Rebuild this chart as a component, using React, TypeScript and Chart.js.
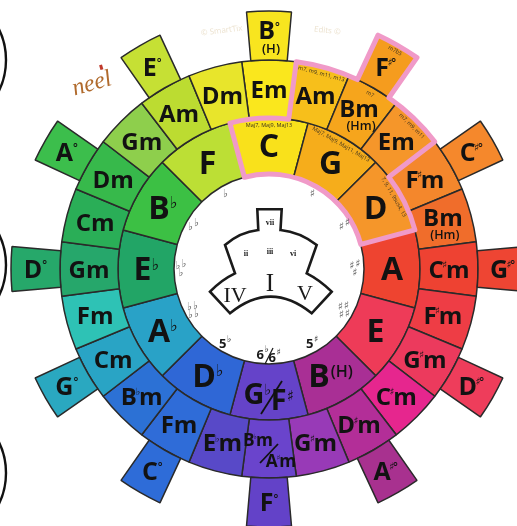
import React, { useEffect, useRef } from "react";
import { Chart, ArcElement, DoughnutController } from "chart.js";

Chart.register(ArcElement, DoughnutController);

// ---- data ----
const majorKeys = ["C", "G", "D", "A", "E", "B(H)", "G♭/F♯", "D♭", "A♭", "E♭", "B♭", "F"];
const majorArc = [30, 30, 30, 30, 30, 30, 30, 30, 30, 30, 30, 30];
const majorColors = ["#f9e11b", "#f6ad1b", "#f5962a", "#ee4430", "#ee3b58", "#a92f95", "#6543c9", "#2f67d6", "#29a2c7", "#22a566", "#3cc044", "#bcdf35"];

const minorChords = ["Em", "Am", "Bm(Hm)", "Em", "F♯m", "Bm(Hm)", "C♯m", "F♯m", "G♯m", "C♯m", "D♯m", "G♯m", "B♭m/A♯m", "E♭m", "Fm", "B♭m", "Cm", "Fm", "Gm", "Cm", "Dm", "Gm", "Am", "Dm"];
const minorArc = [15, 15, 15, 15, 15, 15, 15, 15, 15, 15, 15, 15, 15, 15, 15, 15, 15, 15, 15, 15, 15, 15, 15, 15];
const minorColors = ["#fae71d", "#f7bf1b", "#f6a51c", "#f5962a", "#f4872c", "#f06d2b", "#ee4232", "#ee3d45", "#ec3a5d", "#e6268e", "#b32e98", "#983ab7", "#6a44cc", "#5849c8", "#2f6cd8", "#2c71d5", "#29a4c5", "#2ec2b5", "#26a76b", "#2aae57", "#37b94b", "#8ecf4c", "#bcdc31", "#e8e52b"];

const dimChords = ["B°(H)", "F♯°", "C♯°", "G♯°", "D♯°", "A♯°", "F°", "C°", "G°", "D°", "A°", "E°"];
const dimArc = [10, 10, 10, 10, 10, 10, 10, 10, 10, 10, 10, 10];
const dimGap = [20, 20, 20, 20, 20, 20, 20, 20, 20, 20, 20, 20];
const dimColors = ["#f8e51f", "#f59c1e", "#f5882c", "#ee4533", "#ee3d5b", "#a8318f", "#6342c8", "#2e6cd8", "#2aa8c0", "#26a86a", "#3cbe4c", "#c6e034"];

const keySignatures = ["", "♯", "♯♯", "♯♯♯", "♯♯♯♯", "5♯", "6♭/6♯", "5♭", "♭♭♭♭", "♭♭♭", "♭♭", "♭"];

const majorExtensions = ["Maj7, Maj9, Maj13", "Maj7, Maj9, Maj11, Maj13", "7, 9, 11, 9sus4, 13"];
const minorExtensions = ["", "m7, m9, m11, m13", "m7", "m7, m9, m11"];

// ---- drawing helpers ----
const FONT = '"Open Sans", "DejaVu Sans", sans-serif';
const SYM = '"DejaVu Sans", sans-serif';
const SERIF = '"Liberation Serif", "DejaVu Serif", serif';

function props(el: any) {
  return el.getProps(["x", "y", "startAngle", "endAngle", "innerRadius", "outerRadius"], true);
}

function midPoint(el: any, frac: number) {
  const p = props(el);
  const a = (p.startAngle + p.endAngle) / 2;
  const r = p.innerRadius + (p.outerRadius - p.innerRadius) * frac;
  return { x: p.x + Math.cos(a) * r, y: p.y + Math.sin(a) * r, a, r, p };
}

function drawChordText(ctx: CanvasRenderingContext2D, label: string, x: number, y: number, size: number, weight: number, kind: string) {
  const m = label.match(/^([A-G])([♯♭]?)(m?)(°?)(?:\((.+)\))?$/);
  ctx.fillStyle = "#121212";
  if (!m) {
    ctx.font = `${weight} ${size}px ${FONT}`;
    ctx.textAlign = "center";
    ctx.textBaseline = "middle";
    ctx.fillText(label, x, y);
    return;
  }
  const root = m[1], acc = m[2], minor = m[3], deg = m[4], paren = m[5];
  const cap = size * 0.714;
  const mainF = `${weight} ${size}px ${FONT}`;
  const accSize = kind === "major" ? size * 0.52 : size * 0.42;
  const accF = `${accSize}px ${SYM}`;
  const degSize = size * 0.45;
  const degF = `600 ${degSize}px ${FONT}`;
  ctx.font = mainF;
  const wR = ctx.measureText(root).width;
  const wM = minor ? ctx.measureText("m").width : 0;
  ctx.font = accF;
  const wAraw = acc ? ctx.measureText(acc).width : 0;
  const wA = acc ? (kind === "major" ? wAraw * 0.9 : wAraw * 0.45) : 0;
  ctx.font = degF;
  const wD = deg ? ctx.measureText("°").width : 0;
  const parenSup = !!paren && kind === "major";
  const parenSize = parenSup ? size * 0.5 : size * 0.52;
  const parenF = `600 ${parenSize}px ${FONT}`;
  let parenW = 0;
  if (parenSup) {
    ctx.font = parenF;
    parenW = ctx.measureText("(" + paren + ")").width + 1;
  }
  const total = wR + wA + wM + wD + parenW;
  const yy = paren && !parenSup ? y - size * 0.2 : y;
  const base = yy + cap / 2;
  let cx0 = x - total / 2;
  ctx.textAlign = "left";
  ctx.textBaseline = "alphabetic";
  ctx.font = mainF;
  ctx.fillText(root, cx0, base);
  cx0 += wR;
  if (acc) {
    ctx.font = accF;
    const dx = kind === "major" ? 0 : -wAraw * 0.3;
    ctx.fillText(acc, cx0 + dx, base - cap + accSize * 0.74);
    cx0 += wA;
  }
  if (minor) {
    ctx.font = mainF;
    ctx.fillText("m", cx0, base);
    cx0 += wM;
  }
  if (deg) {
    ctx.font = degF;
    ctx.fillText("°", cx0, base - cap + degSize * 0.72);
    cx0 += wD;
  }
  if (parenSup) {
    ctx.font = parenF;
    ctx.fillText("(" + paren + ")", cx0 + 1, base - cap + parenSize * 0.78);
  } else if (paren) {
    ctx.font = parenF;
    ctx.textAlign = "center";
    ctx.fillText("(" + paren + ")", x + 2, base + parenSize * 1.05);
  }
}

function drawLabel(ctx: CanvasRenderingContext2D, label: string, x: number, y: number, size: number, weight: number, kind: string) {
  if (label.includes("/")) {
    const [a, b] = label.split("/");
    ctx.strokeStyle = "#121212";
    ctx.lineWidth = 1.8;
    ctx.beginPath();
    if (kind === "major") {
      drawChordText(ctx, a, x - 12, y + 2, size * 0.9, weight, kind);
      drawChordText(ctx, b, x + 13, y + 8, size * 0.9, weight, kind);
      ctx.moveTo(x - 8, y + 22);
      ctx.lineTo(x + 13, y - 11);
    } else {
      drawChordText(ctx, a, x - 11, y - 9, size * 0.72, weight, kind);
      drawChordText(ctx, b, x + 12, y + 12, size * 0.72, weight, kind);
      ctx.moveTo(x - 9, y + 14);
      ctx.lineTo(x + 9, y - 5);
    }
    ctx.stroke();
    return;
  }
  drawChordText(ctx, label, x, y, size, weight, kind);
}

function drawTangentText(ctx: CanvasRenderingContext2D, text: string, cx: number, cy: number, r: number, a: number, size: number) {
  ctx.save();
  ctx.translate(cx + Math.cos(a) * r, cy + Math.sin(a) * r);
  ctx.rotate(a + Math.PI / 2);
  ctx.font = `${size}px ${FONT}`;
  ctx.fillStyle = "#3a3020";
  ctx.textAlign = "center";
  ctx.textBaseline = "middle";
  ctx.fillText(text, 0, 0);
  ctx.restore();
}

function drawKeySig(ctx: CanvasRenderingContext2D, sig: string, x: number, y: number) {
  if (!sig) return;
  ctx.textAlign = "center";
  ctx.textBaseline = "middle";
  if (/^[♯♭]+$/.test(sig)) {
    const n = sig.length;
    const sym = sig[0];
    const offs = n === 1 ? [[0, 0]] : n === 2 ? [[-3, 2], [3, -2]] : n === 3 ? [[-4, -3], [2, -5], [-1, 4]] : [[-4, -5], [2, -6], [-3, 3], [3, 2]];
    ctx.font = `11px ${SYM}`;
    ctx.fillStyle = "#666";
    offs.forEach(([dx, dy]) => ctx.fillText(sym, x + dx, y + dy));
    return;
  }
  ctx.fillStyle = "#1a1a1a";
  const part = (t: string, px: number, py: number) => {
    ctx.font = `bold 13px ${FONT}`;
    ctx.textAlign = "right";
    ctx.fillText(t[0], px, py);
    ctx.font = `9px ${SYM}`;
    ctx.textAlign = "left";
    ctx.fillText(t[1], px + 0.5, py - 5);
  };
  if (sig.includes("/")) {
    const [a, b] = sig.split("/");
    part(a, x - 5, y - 1);
    part(b, x + 7, y + 2);
    ctx.strokeStyle = "#1a1a1a";
    ctx.lineWidth = 1.2;
    ctx.beginPath();
    ctx.moveTo(x - 4, y + 8);
    ctx.lineTo(x + 4, y - 8);
    ctx.stroke();
  } else {
    part(sig, x + 1, y);
  }
}

function drawHighlight(ctx: CanvasRenderingContext2D, mTabs: any, mMin: any, mMaj: any) {
  const c = props(mMaj.data[0]);
  const cx = c.x, cy = c.y;
  const rIn = c.innerRadius, r1 = c.outerRadius;
  const r2 = props(mMin.data[0]).outerRadius;
  const r3 = props(mTabs.data[0]).outerRadius;
  const a0 = c.startAngle;
  const aEm = props(mMin.data[0]).endAngle;
  const tab = props(mTabs.data[2]);
  const aEm2 = props(mMin.data[3]).endAngle;
  const aD = props(mMaj.data[2]).endAngle;
  const P = (r: number, a: number): [number, number] => [cx + Math.cos(a) * r, cy + Math.sin(a) * r];
  ctx.save();
  ctx.beginPath();
  ctx.moveTo(...P(rIn, a0));
  ctx.lineTo(...P(r1, a0));
  ctx.arc(cx, cy, r1, a0, aEm);
  ctx.lineTo(...P(r2, aEm));
  ctx.arc(cx, cy, r2, aEm, tab.startAngle);
  ctx.lineTo(...P(r3, tab.startAngle));
  ctx.arc(cx, cy, r3, tab.startAngle, tab.endAngle);
  ctx.lineTo(...P(r2, tab.endAngle));
  ctx.arc(cx, cy, r2, tab.endAngle, aEm2);
  ctx.lineTo(...P(r1, aEm2));
  ctx.arc(cx, cy, r1, aEm2, aD);
  ctx.lineTo(...P(rIn, aD));
  ctx.arc(cx, cy, rIn, aD, a0, true);
  ctx.closePath();
  ctx.lineWidth = 5;
  ctx.lineJoin = "round";
  ctx.strokeStyle = "#f09ac8";
  ctx.stroke();
  ctx.restore();
}

function drawDiagram(ctx: CanvasRenderingContext2D, cx: number, cy: number) {
  const X = (v: number) => cx + (v - 269);
  const Y = (v: number) => cy + (v - 269);
  ctx.save();
  ctx.beginPath();
  ctx.moveTo(X(257.3), Y(209.3));
  ctx.lineTo(X(281.7), Y(209.3));
  ctx.lineTo(X(280.5), Y(230));
  ctx.quadraticCurveTo(X(300), Y(232), X(316.7), Y(245));
  ctx.lineTo(X(306.7), Y(273.3));
  ctx.quadraticCurveTo(X(320), Y(280), X(331.7), Y(291.7));
  ctx.lineTo(X(311.7), Y(313.3));
  ctx.quadraticCurveTo(X(270.5), Y(280), X(230), Y(313.3));
  ctx.lineTo(X(210), Y(291.7));
  ctx.quadraticCurveTo(X(221), Y(280), X(235), Y(273.3));
  ctx.lineTo(X(225), Y(245));
  ctx.quadraticCurveTo(X(240), Y(232), X(258.3), Y(230));
  ctx.closePath();
  ctx.fillStyle = "#ffffff";
  ctx.fill();
  ctx.lineWidth = 2.6;
  ctx.lineJoin = "miter";
  ctx.strokeStyle = "#1a1a1a";
  ctx.stroke();
  ctx.fillStyle = "#1a1a1a";
  ctx.textAlign = "center";
  ctx.textBaseline = "middle";
  ctx.font = `bold 8px ${SERIF}`;
  ctx.fillText("vii", X(270), Y(223));
  ctx.fillText("ii", X(246), Y(254));
  ctx.fillText("iii", X(270), Y(252));
  ctx.fillText("vi", X(293), Y(254));
  ctx.font = `22px ${SERIF}`;
  ctx.fillText("IV", X(235), Y(296));
  ctx.fillText("V", X(305), Y(294));
  ctx.font = `25px ${SERIF}`;
  ctx.fillText("I", X(270), Y(284));
  ctx.restore();
}

function drawExtras(ctx: CanvasRenderingContext2D) {
  ctx.save();
  // partial black circles on the left edge
  ctx.strokeStyle = "#111";
  ctx.lineWidth = 2.4;
  [60, 265, 473].forEach((cy) => {
    ctx.beginPath();
    ctx.arc(-64, cy, 70, -0.7, 0.7);
    ctx.stroke();
  });
  // "neel" logo
  ctx.translate(92, 84);
  ctx.rotate(-0.28);
  ctx.font = `italic 24px ${SERIF}`;
  ctx.fillStyle = "#b06a2c";
  ctx.textAlign = "center";
  ctx.textBaseline = "middle";
  ctx.fillText("neel", 0, 0);
  ctx.fillStyle = "#c0392b";
  ctx.fillRect(12, -16, 3, 5);
  ctx.restore();
  // faint watermarks
  ctx.save();
  ctx.fillStyle = "#ece2cf";
  ctx.font = `8px ${FONT}`;
  ctx.textAlign = "center";
  ctx.translate(222, 33);
  ctx.rotate(-0.12);
  ctx.fillText("© SmartTix", 0, 0);
  ctx.restore();
  ctx.save();
  ctx.fillStyle = "#ece2cf";
  ctx.font = `8px ${FONT}`;
  ctx.textAlign = "center";
  ctx.translate(327, 33);
  ctx.rotate(0.12);
  ctx.fillText("Edits ©", 0, 0);
  ctx.restore();
}

const labelPlugin = {
  id: "circleLabels",
  afterDraw(chart: any) {
    const ctx: CanvasRenderingContext2D = chart.ctx;
    const mTabs = chart.getDatasetMeta(0);
    const mMin = chart.getDatasetMeta(1);
    const mMaj = chart.getDatasetMeta(2);
    const c = props(mMaj.data[0]);
    drawHighlight(ctx, mTabs, mMin, mMaj);
    ctx.save();
    // major keys
    majorKeys.forEach((k, i) => {
      const q = midPoint(mMaj.data[i], 0.5);
      drawLabel(ctx, k, q.x, q.y, 32, 700, "major");
    });
    // minor chords
    minorChords.forEach((k, i) => {
      const q = midPoint(mMin.data[i], 0.5);
      drawLabel(ctx, k, q.x, q.y, 24, 700, "minor");
    });
    // diminished tabs
    dimChords.forEach((k, i) => {
      const q = midPoint(mTabs.data[i * 2], 0.5);
      drawLabel(ctx, k, q.x, q.y, 25, 700, "dim");
    });
    // key signatures inside the white circle
    keySignatures.forEach((s, i) => {
      const p = props(mMaj.data[i]);
      const a = (p.startAngle + p.endAngle) / 2;
      const r = p.innerRadius - 8;
      drawKeySig(ctx, s, p.x + Math.cos(a) * r, p.y + Math.sin(a) * r);
    });
    // tiny extension texts
    majorExtensions.forEach((t, i) => {
      const p = props(mMaj.data[i]);
      const a = (p.startAngle + p.endAngle) / 2;
      drawTangentText(ctx, t, p.x, p.y, p.outerRadius - 7, a, 5.5);
    });
    minorExtensions.forEach((t, i) => {
      if (!t) return;
      const p = props(mMin.data[i]);
      const a = (p.startAngle + p.endAngle) / 2;
      drawTangentText(ctx, t, p.x, p.y, p.outerRadius - 7, a, 5.5);
    });
    {
      const p = props(mTabs.data[2]);
      const a = (p.startAngle + p.endAngle) / 2;
      drawTangentText(ctx, "m7b5", p.x, p.y, p.outerRadius - 6, a, 5.5);
    }
    ctx.restore();
    drawDiagram(ctx, c.x, c.y);
    drawExtras(ctx);
  },
};

export default function App() {
  const ref = useRef<HTMLCanvasElement | null>(null);
  useEffect(() => {
    if (!ref.current) return;
    const tabData = dimChords.flatMap((_, i) => [dimArc[i], dimGap[i]]);
    const tabBg = dimChords.flatMap((_, i) => [dimColors[i], "rgba(0,0,0,0)"]);
    const tabBorder = dimChords.flatMap(() => [1.5, 0]);
    const chart = new Chart(ref.current, {
      type: "doughnut",
      data: {
        datasets: [
          { data: tabData, backgroundColor: tabBg, borderColor: "#2a2a2a", borderWidth: tabBorder, weight: 49, rotation: -5 } as any,
          { data: minorArc, backgroundColor: minorColors, borderColor: "#2a2a2a", borderWidth: 1.5, weight: 58, rotation: -7.5 } as any,
          { data: majorArc, backgroundColor: majorColors, borderColor: "#2a2a2a", borderWidth: 1.5, weight: 56, rotation: -15 } as any,
        ],
      },
      options: {
        animation: false,
        responsive: false,
        events: [],
        radius: 258,
        cutout: `${(95 / 258) * 100}%`,
        plugins: { legend: { display: false }, tooltip: { enabled: false } },
      } as any,
      plugins: [labelPlugin],
    });
    return () => chart.destroy();
  }, []);
  return (
    <div style={{ position: "fixed", left: 0, top: 0, width: 517, height: 526, overflow: "hidden", background: "#fff" }}>
      <div style={{ position: "absolute", left: 0, top: 0, width: 538, height: 538 }}>
        <canvas ref={ref} width={538} height={538} style={{ width: 538, height: 538, display: "block" }} />
      </div>
    </div>
  );
}
